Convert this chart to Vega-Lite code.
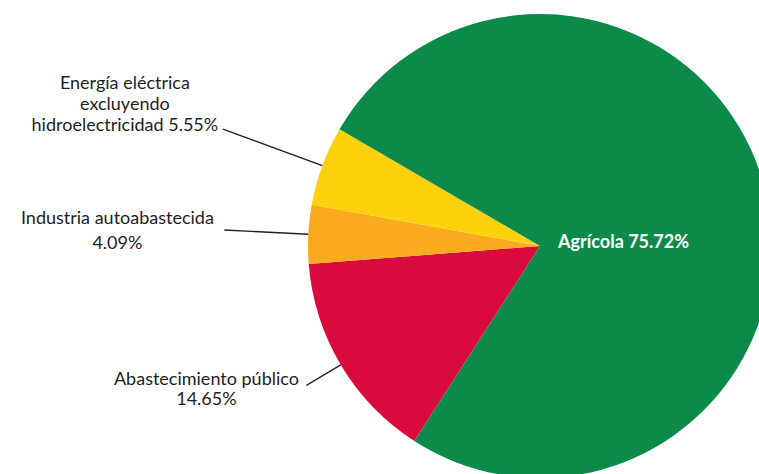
{
  "$schema": "https://vega.github.io/schema/vega-lite/v6.json",
  "width": 438,
  "height": 456,
  "padding": {"left": 321, "top": 18, "right": 0, "bottom": 0},
  "autosize": {"type": "none"},
  "background": "white",
  "config": {"view": {"stroke": null}, "text": {"font": "Lato"}},
  "data": {
    "values": [
      {"categoria": "Abastecimiento público", "porcentaje": 14.65, "orden": 1, "etiqueta": ["Abastecimiento público", "14.65%"]},
      {"categoria": "Industria autoabastecida", "porcentaje": 4.09, "orden": 2, "etiqueta": ["Industria autoabastecida", "4.09%"]},
      {"categoria": "Energía eléctrica excluyendo hidroelectricidad", "porcentaje": 5.55, "orden": 3, "etiqueta": ["Energía  eléctrica", "excluyendo", "hidroelectricidad 5.55%"]},
      {"categoria": "Agrícola", "porcentaje": 75.72, "orden": 4, "etiqueta": "Agrícola 75.72%"}
    ]
  },
  "encoding": {
    "theta": {"field": "porcentaje", "type": "quantitative", "stack": true, "scale": {"range": [3.7141, 9.9973]}},
    "order": {"field": "orden", "type": "quantitative"}
  },
  "layer": [
    {
      "mark": {"type": "arc", "outerRadius": 232},
      "encoding": {
        "color": {
          "field": "categoria",
          "type": "nominal",
          "scale": {
            "domain": ["Abastecimiento público", "Industria autoabastecida", "Energía eléctrica excluyendo hidroelectricidad", "Agrícola"],
            "range": ["#DA0A3D", "#F9AA1E", "#FDD20C", "#0B8A4A"]
          },
          "legend": null
        }
      }
    },
    {
      "mark": {"type": "arc", "innerRadius": 232, "outerRadius": 338, "padAngle": 3, "fillOpacity": 0, "stroke": "#222222", "strokeWidth": 1.3},
      "encoding": {"strokeOpacity": {"condition": {"test": "datum.categoria === 'Energía eléctrica excluyendo hidroelectricidad'", "value": 1}, "value": 0}}
    },
    {
      "mark": {"type": "arc", "innerRadius": 232, "outerRadius": 316, "padAngle": 3, "fillOpacity": 0, "stroke": "#222222", "strokeWidth": 1.3},
      "encoding": {"strokeOpacity": {"condition": {"test": "datum.categoria === 'Industria autoabastecida'", "value": 1}, "value": 0}}
    },
    {
      "mark": {"type": "arc", "innerRadius": 232, "outerRadius": 272, "padAngle": 3, "fillOpacity": 0, "stroke": "#222222", "strokeWidth": 1.3},
      "encoding": {"strokeOpacity": {"condition": {"test": "datum.categoria === 'Abastecimiento público'", "value": 1}, "value": 0}}
    },
    {
      "mark": {"type": "text", "radius": 338, "align": "center", "baseline": "alphabetic", "dx": -98, "dy": -40, "fontSize": 18, "lineHeight": 21, "fill": "#1e1e1e"},
      "encoding": {"text": {"condition": {"test": "datum.categoria === 'Energía eléctrica excluyendo hidroelectricidad'", "field": "etiqueta"}, "value": ""}}
    },
    {
      "mark": {"type": "text", "radius": 316, "align": "center", "baseline": "alphabetic", "dx": -107, "dy": -6, "fontSize": 18, "lineHeight": 25, "fill": "#1e1e1e"},
      "encoding": {"text": {"condition": {"test": "datum.categoria === 'Industria autoabastecida'", "field": "etiqueta"}, "value": ""}}
    },
    {
      "mark": {"type": "text", "radius": 272, "align": "center", "baseline": "alphabetic", "dx": -100, "dy": 0, "fontSize": 18, "lineHeight": 20, "fill": "#1e1e1e"},
      "encoding": {"text": {"condition": {"test": "datum.categoria === 'Abastecimiento público'", "field": "etiqueta"}, "value": ""}}
    },
    {
      "mark": {"type": "text", "radius": 0, "align": "left", "baseline": "alphabetic", "dx": 18, "dy": 2, "fontSize": 18, "fontWeight": "bold", "fill": "white"},
      "encoding": {"text": {"condition": {"test": "datum.categoria === 'Agrícola'", "field": "etiqueta"}, "value": ""}}
    }
  ]
}
